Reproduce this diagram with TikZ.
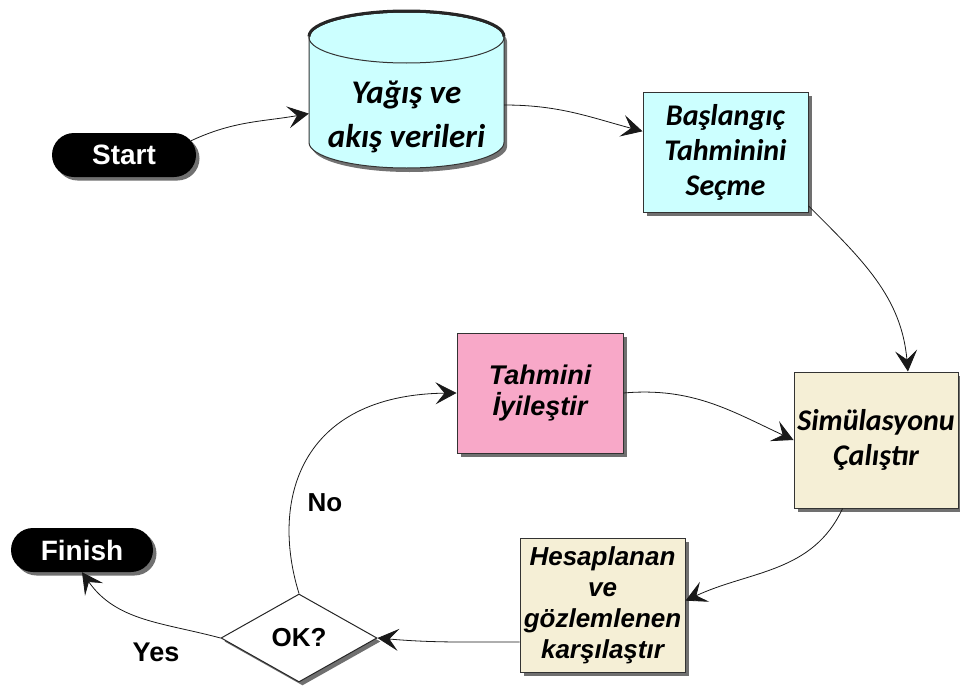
\documentclass[tikz,border=0pt]{standalone}
\usepackage{fontspec}
\usetikzlibrary{arrows.meta,shapes.geometric,shapes.misc,shadows}
\newfontfamily\calfont{Carlito}
\newfontfamily\arfont{Liberation Sans}
\definecolor{cyanfill}{HTML}{CCFFFF}
\definecolor{pinkfill}{HTML}{F8A8C8}
\definecolor{beigefill}{HTML}{F5EFD6}
\begin{document}
\begin{tikzpicture}[x=1pt,y=-1pt,
  arr/.style={-{Stealth[length=21pt,width=22pt,inset=9pt]}, line width=0.8pt, black!90},
  shad/.style={drop shadow={shadow xshift=3.5pt,shadow yshift=-3.5pt,fill=black!70,opacity=0.8}},
  pill/.style={rounded rectangle, fill=black, text=white, minimum width=144pt, minimum height=44pt, font=\arfont\bfseries\fontsize{28}{32}\selectfont, shad, inner sep=0pt},
  calbox/.style={rectangle, draw=black!80, line width=1pt, align=center, inner sep=0pt, font=\calfont\bfseries\itshape\fontsize{30}{35}\selectfont, shad},
  arbox/.style={rectangle, draw=black!80, line width=1pt, align=center, inner sep=0pt, font=\arfont\bfseries\itshape\fontsize{26}{31}\selectfont, shad},
  lbl/.style={font=\arfont\bfseries\fontsize{26}{30}\selectfont, inner sep=0pt}
]
\useasboundingbox (0,0) rectangle (960,688);

% start
\node[pill] (start) at (124,155) {Start};

% cylinder
\fill[black!65, opacity=0.85, shift={(3,4)}] (309,37.5) -- (309,142.5) arc[start angle=180,end angle=360,x radius=97.5pt,y radius=25.5pt] -- (504,37.5) arc[start angle=0,end angle=180,x radius=97.5pt,y radius=25.5pt] -- cycle;
\filldraw[fill=cyanfill, draw=black!80, line width=1pt] (309,37.5) -- (309,142.5) arc[start angle=180,end angle=360,x radius=97.5pt,y radius=25.5pt] -- (504,37.5) arc[start angle=0,end angle=180,x radius=97.5pt,y radius=25.5pt] -- cycle;
\draw[black!80, line width=1pt] (406.5,37.5) ellipse [x radius=97.5pt, y radius=25.5pt];
\draw[black!85, line width=3pt] (504,36.5) arc[start angle=0,end angle=180,x radius=97.5pt,y radius=25.5pt];
\node[align=center, font=\calfont\bfseries\itshape\fontsize{33}{44}\selectfont, minimum width=195pt, minimum height=105pt, inner sep=0pt] (data) at (406.5,117) {Yağış ve\\akış verileri};

% boxes
\node[calbox, fill=cyanfill, minimum width=165pt, minimum height=120pt] (bas) at (725.5,152) {Başlangıç\\Tahminini\\Seçme};
\node[calbox, fill=beigefill, minimum width=164pt, minimum height=136pt] (sim) at (876,440) {Simülasyonu\\Çalıştır};
\node[arbox, fill=pinkfill, minimum width=166pt, minimum height=120pt, font=\arfont\bfseries\itshape\fontsize{27}{31}\selectfont] (imp) at (540,393) {Tahmini\\İyileştir};
\node[arbox, fill=beigefill, minimum width=165pt, minimum height=134pt] (hes) at (602.5,605) {Hesaplanan\\ve\\gözlemlenen\\karşılaştır};
\node[diamond, draw=black!85, line width=1pt, fill=white, aspect=1.72, minimum width=156pt, minimum height=88pt, lbl, shad] (ok) at (299,638) {OK?};
\node[pill, minimum width=142pt] (fin) at (82,550) {Finish};

% labels
\node[lbl] (no) at (325,503) {No};
\node[lbl, font=\arfont\bfseries\fontsize{27}{30}\selectfont] (yes) at (156,652) {Yes};

% connectors
\draw[arr] (start.12) to[out=25,in=190] (data.178);
\draw[arr] (data.7) to[out=0,in=165] (bas.166);
\draw[arr] (bas.-33) to[out=-45,in=95] (sim.65);
\draw[arr] (imp.east) to[out=5,in=155] (sim.west);
\draw[arr] (sim.-116) to[out=-115,in=25] (hes.3);
\draw[arr] (hes.204) to[out=180,in=-5] (ok.east);
\draw[arr] (ok.north) .. controls (270,500) and (300,395) .. (imp.west);
\draw[arr] (ok.west) to[out=165,in=-55] (fin.south);
\end{tikzpicture}
\end{document}
